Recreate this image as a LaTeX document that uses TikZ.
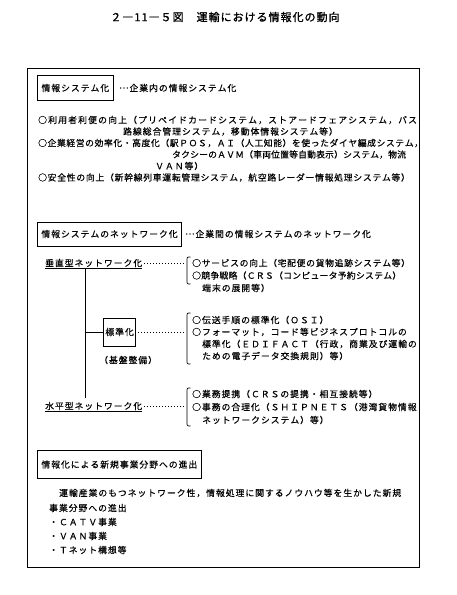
\documentclass[tikz,border=0pt]{standalone}
\usepackage{fontspec}
\setmainfont{Noto Sans CJK JP}[FakeBold=0.4]
\newfontfamily\titlefont{Noto Sans CJK JP}[FakeBold=1.2]
\newdimen\trk
\trk=1pt
\makeatletter
\def\tk#1{\tk@loop#1\relax\kern-\trk}
\def\tk@loop#1{\ifx\relax#1\else#1\kern\trk\expandafter\tk@loop\fi}
\makeatother
\newcommand\midell{\raisebox{0.33em}{…}\kern1pt}
\newcommand\brk[3]{\draw[brk] ({#1+3.5},#2) .. controls (#1,#2) .. (#1,{#2+4}) -- (#1,{#3-4}) .. controls (#1,#3) .. ({#1+3.5},#3);}
\begin{document}
\begin{tikzpicture}[x=1pt,y=-1pt,
  txt/.style={anchor=west,inner sep=0pt,font={\fontsize{8.8}{10}\selectfont}},
  lbl/.style={draw,line width=0.9pt,anchor=west,inner xsep=4pt,inner ysep=0pt,font={\fontsize{8.8}{10}\selectfont}},
  leader/.style={line width=0.9pt,dash pattern=on 0.9pt off 2.1pt},
  rulel/.style={line width=0.8pt},
  brk/.style={line width=0.7pt},
  frame/.style={line width=0.8pt}]
\useasboundingbox (0,0) rectangle (456,595);
\node[inner sep=0pt,font={\titlefont\fontsize{11}{12}\selectfont}] (title) at (225,17) {\tk{２―11―５図　運輸における情報化の動向}};
\draw[frame] (27,68) rectangle (419,567);
% section 1
\node[lbl,line width=1.1pt,minimum height=25pt] (s1) at (37,88) {\tk{情報システム化}};
\node[txt] (s1d) at (119,88) {\midell\tk{企業内の情報システム化}};
\node[txt] (a1) at (38,120) {\trk=1.2pt\tk{○利用者利便の向上（プリペイドカードシステム，ストアードフェアシステム，バス}};
\node[txt] (a2) at (123,131.5) {\tk{路線総合管理システム，移動体情報システム等）}};
\node[txt] (a3) at (38,143) {\trk=0.6pt\tk{○企業経営の効率化・高度化（駅ＰＯＳ，ＡＩ（人工知能）を使ったダイヤ編成システム，}};
\node[txt] (a4) at (172,154.5) {\trk=0.2pt\tk{タクシーのＡＶＭ（車両位置等自動表示）システム，物流}};
\node[txt] (a5) at (155,166) {\tk{ＶＡＮ等）}};
\node[txt] (a6) at (38,177.5) {\trk=0.75pt\tk{○安全性の向上（新幹線列車運転管理システム，航空路レーダー情報処理システム等）}};
% section 2
\node[lbl,minimum height=24pt] (s2) at (37,234) {\tk{情報システムのネットワーク化}};
\node[txt] (s2d) at (185,234) {\midell\tk{企業間の情報システムのネットワーク化}};
\coordinate (jx) at (85,0);
\coordinate (kx) at (184,0);
\node[txt] (v) at (45,263) {\tk{垂直型ネットワーク化}};
\draw[leader] ([xshift=2pt]v.east) -- (v.east -| kx);
\brk{187}{257}{284}
\node[txt] (b1a) at (192,263) {\trk=0.7pt\tk{○サービスの向上（宅配便の貨物追跡システム等）}};
\node[txt] (b1b) at (192,275.5) {\trk=0.3pt\tk{○競争戦略（ＣＲＳ（コンピュータ予約システム）}};
\node[txt] (b1c) at (202,288) {\tk{端末の展開等）}};
\node[lbl,inner xsep=2pt,minimum height=28pt] (std) at (103,332) {\tk{標準化}};
\node[txt] (kb) at (99,360) {\tk{（基盤整備）}};
\draw[leader] ([xshift=2pt]std.east) -- (std.east -| kx);
\brk{187}{313}{364}
\node[txt] (b2a) at (192,320) {\tk{○伝送手順の標準化（ＯＳＩ）}};
\node[txt] (b2b) at (192,332) {\tk{○フォーマット，コード等ビジネスプロトコルの}};
\node[txt] (b2c) at (202,344) {\tk{標準化（ＥＤＩＦＡＣＴ（行政，商業及び運輸の}};
\node[txt] (b2d) at (202,356) {\tk{ための電子データ交換規則）等）}};
\node[txt] (h) at (45,406) {\tk{水平型ネットワーク化}};
\draw[leader] ([xshift=2pt]h.east) -- (h.east -| kx);
\brk{187}{388}{426}
\node[txt] (b3a) at (192,394) {\tk{○業務提携（ＣＲＳの提携・相互接続等）}};
\node[txt] (b3b) at (192,407) {\tk{○事務の合理化（ＳＨＩＰＮＥＴＳ（港湾貨物情報}};
\node[txt] (b3c) at (202,420) {\tk{ネットワークシステム）等）}};
\draw[rulel] ([yshift=-1.5pt]v.south west) -- ([yshift=-1.5pt]v.south east);
\draw[rulel] ([yshift=-1.5pt]h.south west) -- ([yshift=-1.5pt]h.south east);
\coordinate (vu) at ([yshift=-1.5pt]v.south);
\coordinate (hu) at ([yshift=4pt]h.north);
\draw[rulel] (vu -| jx) -- (hu -| jx);
\draw[rulel] (std.west -| jx) -- (std.west);
% section 3
\node[lbl,minimum height=28pt] (s3) at (37,464.5) {\tk{情報化による新規事業分野への進出}};
\node[txt] (c1) at (59,493) {\tk{運輸産業のもつネットワーク性，情報処理に関するノウハウ等を生かした新規}};
\node[txt] (c2) at (49,508) {\tk{事業分野への進出}};
\node[txt] (c3) at (49,522) {\tk{・ＣＡＴＶ事業}};
\node[txt] (c4) at (49,536) {\tk{・ＶＡＮ事業}};
\node[txt] (c5) at (49,550) {\tk{・Ｔネット構想等}};
\end{tikzpicture}
\end{document}
